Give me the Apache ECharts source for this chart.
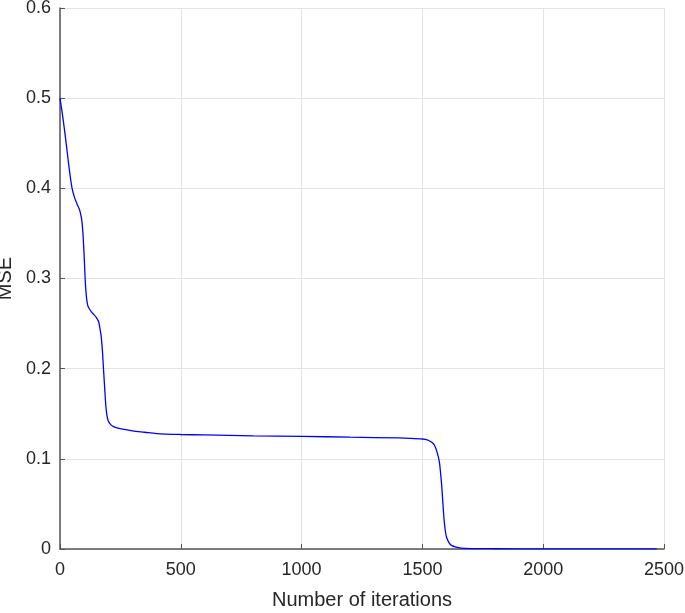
<!DOCTYPE html>
<html><head><meta charset="utf-8">
<script src="https://cdn.jsdelivr.net/npm/echarts@6/dist/echarts.min.js"></script>
<style>html,body{margin:0;padding:0;background:#fff}#c{width:685px;height:613px}</style>
</head><body><div id="c"></div>
<script>
const iterations = [0,10,20,30,40,50,60,70,80,85,90,95,100,105,110,115,120,130,140,150,160,165,170,175,180,185,190,195,200,210,220,240,260,300,350,400,500,600,800,1000,1200,1400,1450,1500,1520,1540,1550,1560,1570,1575,1580,1585,1590,1595,1600,1610,1620,1640,1660,1700,1800,2000,2470];
const mse = [0.500,0.482,0.462,0.440,0.418,0.400,0.390,0.383,0.377,0.372,0.365,0.350,0.325,0.295,0.278,0.270,0.267,0.263,0.260,0.257,0.252,0.245,0.237,0.222,0.200,0.178,0.158,0.147,0.142,0.138,0.136,0.134,0.133,0.131,0.1295,0.128,0.127,0.1265,0.1255,0.125,0.124,0.1232,0.1228,0.122,0.121,0.118,0.115,0.108,0.097,0.085,0.070,0.050,0.032,0.020,0.013,0.007,0.004,0.002,0.001,0.0005,0.0003,0.0002,0.0001];
const xTicks = {min:0, max:2500, interval:500};
const yTicks = {min:0, max:0.6, interval:0.1};
const data = iterations.map((x,i)=>[x,mse[i]]);
const chart = echarts.init(document.getElementById('c'));
const font = 'Liberation Sans, Arial, sans-serif';
chart.setOption({
  animation:false,
  grid:{left:60,right:21,top:8,bottom:64,show:false,containLabel:false,outerBoundsMode:'none'},
  xAxis:{type:'value',min:xTicks.min,max:xTicks.max,interval:xTicks.interval,
    name:'Number of iterations',nameLocation:'middle',nameGap:41,
    nameTextStyle:{fontSize:20,color:'#262626',fontFamily:font},
    axisLine:{show:true,lineStyle:{color:'#555',width:1.5}},
    axisTick:{show:true,inside:true,length:5,lineStyle:{color:'#555'}},
    axisLabel:{fontSize:18,color:'#262626',fontFamily:font,margin:12,formatter:v=>String(v)},
    splitLine:{show:true,lineStyle:{color:'#e3e3e3'}}},
  yAxis:{type:'value',min:yTicks.min,max:yTicks.max,interval:yTicks.interval,
    name:'MSE',nameLocation:'middle',nameGap:39,nameRotate:90,
    nameTextStyle:{fontSize:20,color:'#262626',fontFamily:font},
    axisLine:{show:true,lineStyle:{color:'#555',width:1.5}},
    axisTick:{show:true,inside:true,length:5,lineStyle:{color:'#555'}},
    axisLabel:{fontSize:18,color:'#262626',fontFamily:font,margin:9,formatter:v=>String(v)},
    splitLine:{show:true,lineStyle:{color:'#e3e3e3'}}},
  series:[{type:'line',data:data,showSymbol:false,smooth:0.3,
    lineStyle:{color:'#0000ff',width:1.3}}]
});
</script></body></html>
